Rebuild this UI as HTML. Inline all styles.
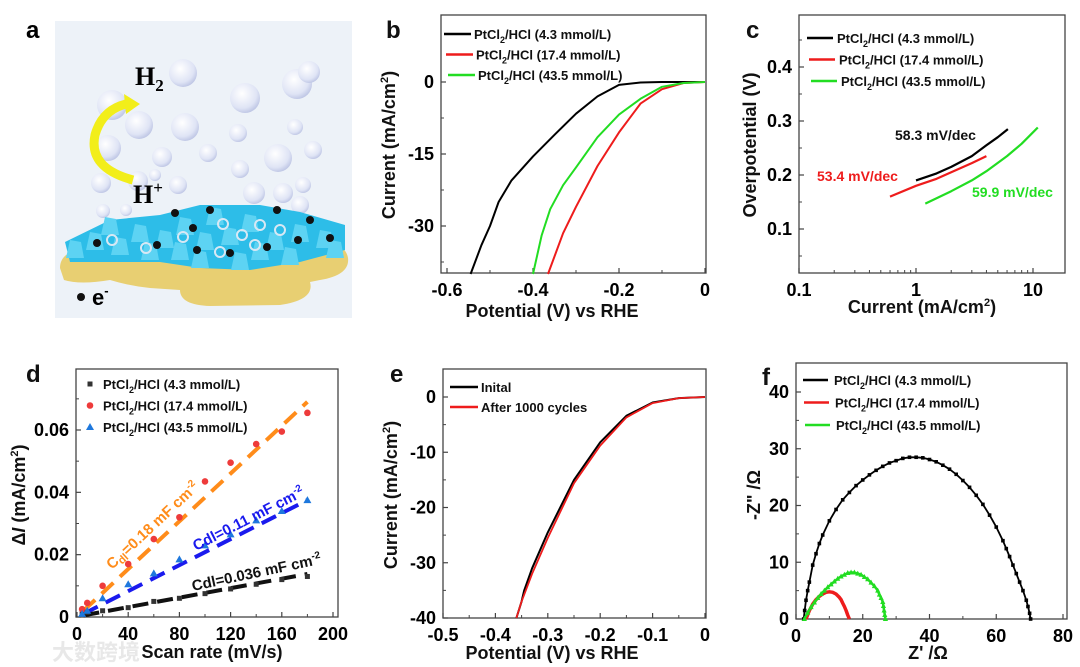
<!DOCTYPE html>
<html><head><meta charset="utf-8">
<style>
body{margin:0;background:#fff;}
svg{display:block;font-family:"Liberation Sans",Arial,sans-serif;font-weight:bold;}
</style></head>
<body>
<svg id="fig" width="1080" height="667" viewBox="0 0 1080 667" xmlns="http://www.w3.org/2000/svg">
<g>
<text x="26" y="38" font-size="24">a</text>
<rect x="55" y="21" width="297" height="297" fill="#edf2f8"/>
<defs>
<radialGradient id="bub" cx="0.4" cy="0.35" r="0.7"><stop offset="0" stop-color="#ffffff"/><stop offset="0.7" stop-color="#dfe4f5"/><stop offset="1" stop-color="#b9c1e2"/></radialGradient>
</defs>
<g id="bubbles"></g>
<path d="M60 268 Q60 250 90 248 L300 240 Q345 238 348 258 Q350 275 320 280 L310 282 Q315 300 280 305 L210 306 Q180 305 180 290 L150 288 Q130 286 110 280 Q80 285 64 280 Z" fill="#e8cf72"/>
<path d="M65 242 L110 220 L160 215 L200 205 L260 205 L300 212 L345 225 L345 250 L300 262 L250 270 L200 268 L160 262 L110 262 L70 262 Z" fill="#2dbde8"/>
<g id="crystals"></g>
<path d="M133 180 Q88 168 95 135 Q102 110 126 104" fill="none" stroke="#f2ee1a" stroke-width="9"/>
<path d="M124 94 L140 104 L126 114 Z" fill="#f2ee1a"/>
<text x="135" y="85" font-family="Liberation Serif,serif" font-size="26">H<tspan font-size="17" dy="6">2</tspan></text>
<text x="133" y="203" font-family="Liberation Serif,serif" font-size="26">H<tspan font-size="17" dy="-10">+</tspan></text>
<circle cx="81" cy="297" r="4" fill="#111"/>
<text x="92" y="305" font-size="22">e<tspan font-size="13" dy="-10">-</tspan></text>
</g>
<g id="plots"></g>
<text x="52" y="660" font-size="22" fill="#e8e8e8" font-family="Liberation Sans,'Noto Sans CJK SC',sans-serif">大数跨境</text>
</svg>
<script>
// ---------- Panel b data ----------
const bBlackV=[0,-0.1,-0.15,-0.2,-0.25,-0.3,-0.35,-0.4,-0.45,-0.48,-0.5,-0.52,-0.545];
const bBlackI=[0,0,-0.1,-0.6,-3,-6.6,-11,-15.5,-20.5,-25,-30,-34,-40];
const bRedV=[0,-0.05,-0.1,-0.15,-0.2,-0.25,-0.3,-0.33,-0.365];
const bRedI=[0,-0.2,-1.5,-4.5,-10.5,-17.5,-26,-31.5,-40];
const bGreenV=[0,-0.05,-0.1,-0.15,-0.2,-0.25,-0.3,-0.33,-0.36,-0.38,-0.4];
const bGreenI=[0,-0.2,-1,-3.5,-6.8,-11.5,-17.8,-21.5,-26.5,-32,-40];
const bXTicks=[-0.6,-0.4,-0.2,0];
const bYTicks=[0,-15,-30];
// ---------- Panel c data ----------
const cBlackX=[1,1.5,2,3,4,5,6.1];
const cBlackY=[0.19,0.203,0.215,0.235,0.255,0.27,0.285];
const cRedX=[0.6,1,1.5,2,3,4];
const cRedY=[0.16,0.18,0.193,0.205,0.222,0.235];
const cGreenX=[1.2,2,3,4,6,8,11];
const cGreenY=[0.147,0.17,0.19,0.207,0.235,0.258,0.288];
const cXTicks=[0.1,1,10];
const cYTicks=[0.1,0.2,0.3,0.4];
// ---------- Panel d data ----------
const dScan=[4,8,20,40,60,80,100,120,140,160,180];
const dBlack=[0.001,0.0015,0.002,0.003,0.005,0.006,0.0075,0.009,0.0105,0.012,0.013];
const dRed=[0.0025,0.0045,0.01,0.017,0.025,0.032,0.0435,0.0495,0.0555,0.0595,0.0655];
const dBlue=[0.001,0.002,0.006,0.0105,0.014,0.0185,0.023,0.0265,0.031,0.034,0.0375];
const dFitX=[5,180];
const dFitRed=[0.002,0.069];
const dFitBlue=[0.001,0.0375];
const dFitBlack=[0.0005,0.0138];
const dXTicks=[0,40,80,120,160,200];
const dYTicks=[0,0.02,0.04,0.06];
// ---------- Panel e data ----------
const eInitV=[0,-0.05,-0.1,-0.15,-0.2,-0.25,-0.3,-0.33,-0.345,-0.35,-0.36];
const eInitI=[0,-0.2,-1,-3.4,-8.2,-15,-24.5,-31,-35,-37,-40];
const eAfterV=[0,-0.05,-0.1,-0.15,-0.2,-0.25,-0.3,-0.33,-0.35,-0.36];
const eAfterI=[0,-0.2,-1.1,-3.7,-8.8,-15.6,-25.5,-32,-37,-40];
const eXTicks=[-0.5,-0.4,-0.3,-0.2,-0.1,0];
const eYTicks=[0,-10,-20,-30,-40];
// ---------- Panel f data ----------
const fBlackX=[2.3,2.6,3,3.5,4,5,6,7,8,10,12,14,16,18,20,22,24,26,28,30,32,34,36,38,40,42,44,46,48,50,52,54,56,58,60,62,63,64,65,66,67,68,69,69.5,70,70.3];
const fBlackY=[0,1.5,3.3,5,6.5,9.5,11.5,13.3,14.8,17.3,19.3,21,22.3,23.5,24.5,25.4,26.2,26.9,27.5,27.9,28.3,28.5,28.5,28.4,28.1,27.7,27.1,26.4,25.5,24.4,23.2,21.8,20.2,18.3,16.2,13.8,12.4,11,9.5,8,6.5,5,3.3,2.2,1,0];
const fRedX=[3,4,5,6,7,8,9,10,11,12,13,13.5,14,14.5,15,15.5,16];
const fRedY=[0,1.5,2.6,3.4,4,4.4,4.7,4.8,4.7,4.4,3.8,3.4,2.8,2.2,1.5,0.7,0];
const fGreenX=[2.5,3.5,4.5,5.5,6.5,7.5,8.5,9.5,10.5,11.5,12.5,13.5,14.5,15.5,16.5,17.5,18.5,19.5,20.5,21.5,22.5,23.5,24.5,25,25.5,26,26.2,26.4,26.6,26.8];
const fGreenY=[0,1.1,2.1,2.9,3.7,4.4,5,5.6,6.1,6.6,7.1,7.5,7.8,8.1,8.2,8.2,8,7.8,7.4,7,6.4,5.8,5,4.3,3.7,3,2.3,1.5,0.7,0];
const fXTicks=[0,20,40,60,80];
const fYTicks=[0,10,20,30,40];

const NS='http://www.w3.org/2000/svg';
const root=document.getElementById('plots');
function mk(tag,attrs,parent){const e=document.createElementNS(NS,tag);for(const k in attrs)e.setAttribute(k,attrs[k]);(parent||root).appendChild(e);return e;}
function lin(d0,d1,r0,r1){return v=>r0+(v-d0)*(r1-r0)/(d1-d0);}
function logs(d0,d1,r0,r1){return v=>r0+(Math.log10(v)-Math.log10(d0))*(r1-r0)/(Math.log10(d1)-Math.log10(d0));}

function axes(g,box,sx,sy,xt,yt,xfmt,yfmt,xminor,yminor){
  const fr=mk('rect',{x:box.l,y:box.t,width:box.r-box.l,height:box.b-box.t,fill:'none',stroke:'#444','stroke-width':1.3},g);
  
  
  xt.forEach(v=>{const x=sx(v);
    const t=mk('line',{x1:x,x2:x,y1:box.b,y2:box.b-5,stroke:'#444','stroke-width':1.2},g);
    
    
    const tx=mk('text',{x:x,y:box.b+23,'font-size':18,'text-anchor':'middle'},g);tx.textContent=xfmt(v);
    
    });
  (xminor||[]).forEach(v=>{const x=sx(v);
    const t=mk('line',{x1:x,x2:x,y1:box.b,y2:box.b-3,stroke:'#444','stroke-width':1},g);
    
    });
  yt.forEach(v=>{const y=sy(v);
    const t=mk('line',{x1:box.l,x2:box.l+5,y1:y,y2:y,stroke:'#444','stroke-width':1.2},g);
    
    
    const tx=mk('text',{x:box.l-7,y:y+6,'font-size':18,'text-anchor':'end'},g);tx.textContent=yfmt(v);
    
    });
  (yminor||[]).forEach(v=>{const y=sy(v);
    const t=mk('line',{x1:box.l,x2:box.l+3,y1:y,y2:y,stroke:'#444','stroke-width':1},g);
    
    });
}
function line(g,xs,ys,sx,sy,color,w,name,dash){
  const d=xs.map((x,i)=>(i?'L':'M')+sx(x).toFixed(1)+' '+sy(ys[i]).toFixed(1)).join(' ');
  const p=mk('path',{d:d,fill:'none',stroke:color,'stroke-width':w||2,'stroke-linejoin':'round'},g);
  if(dash)p.setAttribute('stroke-dasharray',dash);
  
  
  return p;
}
function label(g,x,y,txt,size,name,anchor,fill,rot){
  const t=mk('text',{x:x,y:y,'font-size':size,'text-anchor':anchor||'start',fill:fill||'#111'},g);
  if(rot!==undefined)t.setAttribute('transform','rotate('+rot+' '+x+' '+y+')');
  t.innerHTML=txt;
  
  
  return t;
}
function legLine(g,x1,x2,y,color,name){
  const l=mk('line',{x1:x1,x2:x2,y1:y,y2:y,stroke:color,'stroke-width':2.5},g);
  
  
}
const sub2='PtCl<tspan font-size="9" dy="4">2</tspan><tspan dy="-4">/HCl</tspan>';

// ===== Panel b =====
(function(){
 const g=mk('g',{});
 const box={l:441,r:706,t:15,b:273};
 const sx=lin(-0.6,0,447,705), sy=lin(0,-30,82,226);
 axes(g,box,sx,sy,bXTicks,bYTicks,v=>v===0?'0':v.toFixed(1),v=>String(v),[-0.5,-0.3,-0.1],[-7.5,-22.5,-37.5]);
 line(g,bBlackV,bBlackI,sx,sy,'#000',2,'series-4-3-mmol');
 line(g,bRedV,bRedI,sx,sy,'#ee1c1c',2,'series-17-4-mmol');
 line(g,bGreenV,bGreenI,sx,sy,'#22dd22',2,'series-43-5-mmol');
 label(g,386,38,'b',24,'panel-label-b');
 [['#000','4.3'],['#ee1c1c','17.4'],['#22dd22','43.5']].forEach((s,i)=>{
   const y=34+i*20.5, x0=444+i*2;
   legLine(g,x0,x0+27,y,s[0],'legend-line');
   label(g,x0+30,y+5,sub2+' ('+s[1]+' mmol/L)',13,'legend-entry');
 });
 label(g,395,145,'Current (mA/cm<tspan font-size="11" dy="-7">2</tspan><tspan dy="7">)</tspan>',18,'y-axis-title','middle','#111',-90);
 label(g,552,317,'Potential (V) vs RHE',18,'x-axis-title','middle');
})();

// ===== Panel c =====
(function(){
 const g=mk('g',{});
 const box={l:799,r:1065,t:15,b:273};
 const sx=logs(0.1,10,799,1033), sy=lin(0.1,0.4,229,67);
 axes(g,box,sx,sy,cXTicks,cYTicks,v=>String(v),v=>v.toFixed(1),[0.2,0.3,0.4,0.5,0.6,0.7,0.8,0.9,2,3,4,5,6,7,8,9],[0.05,0.15,0.25,0.35,0.45]);
 line(g,cBlackX,cBlackY,sx,sy,'#000',2.2,'tafel-4-3-mmol');
 line(g,cRedX,cRedY,sx,sy,'#ee1c1c',2.2,'tafel-17-4-mmol');
 line(g,cGreenX,cGreenY,sx,sy,'#22dd22',2.2,'tafel-43-5-mmol');
 label(g,746,38,'c',24,'panel-label-c');
 [['#000','4.3'],['#ee1c1c','17.4'],['#22dd22','43.5']].forEach((s,i)=>{
   const y=38+i*21.5, x0=807+i*2;
   legLine(g,x0,x0+26,y,s[0],'legend-line');
   label(g,x0+30,y+5,sub2+' ('+s[1]+' mmol/L)',13,'legend-entry');
 });
 label(g,895,140,'58.3 mV/dec',14,'slope-label-black');
 label(g,817,181,'53.4 mV/dec',14,'slope-label-red','start','#ee1c1c');
 label(g,972,197,'59.9 mV/dec',14,'slope-label-green','start','#22dd22');
 label(g,756,145,'Overpotential (V)',18,'y-axis-title','middle','#111',-90);
 label(g,922,313,'Current (mA/cm<tspan font-size="11" dy="-7">2</tspan><tspan dy="7">)</tspan>',18,'x-axis-title','middle');
})();

// ===== Panel d =====
(function(){
 const g=mk('g',{});
 const box={l:76,r:338,t:369,b:617};
 const sx=lin(0,200,77,333), sy=lin(0,0.06,617,430);
 axes(g,box,sx,sy,dXTicks,dYTicks,v=>String(v),v=>v===0?'0':v.toFixed(2),[20,60,100,140,180],[0.01,0.03,0.05,0.07]);
 line(g,dFitX,dFitRed,sx,sy,'#ff8c1a',4,'fit-line-17-4-mmol','16,9');
 line(g,dFitX,dFitBlue,sx,sy,'#1a1aee',4,'fit-line-43-5-mmol','16,9');
 line(g,dFitX,dFitBlack,sx,sy,'#111',4,'fit-line-4-3-mmol','16,9');
 dScan.forEach((x,i)=>{
   const s=mk('rect',{x:sx(x)-2.5,y:sy(dBlack[i])-2.5,width:5,height:5,fill:'#333'},g);
   
   
   const c=mk('circle',{cx:sx(x),cy:sy(dRed[i]),r:3.3,fill:'#ee3b3b'},g);
   
   
   const X=sx(x),Y=sy(dBlue[i]);
   const t=mk('polygon',{points:`${X},${Y-4} ${X-4},${Y+3} ${X+4},${Y+3}`,fill:'#1e78dd'},g);
   
   
 });
 label(g,26,382,'d',24,'panel-label-d');
 const mk3=[(x,y)=>mk('rect',{x:x-2.5,y:y-2.5,width:5,height:5,fill:'#333'},g),(x,y)=>mk('circle',{cx:x,cy:y,r:3.3,fill:'#ee3b3b'},g),(x,y)=>mk('polygon',{points:`${x},${y-4} ${x-4},${y+3} ${x+4},${y+3}`,fill:'#1e78dd'},g)];
 ['4.3','17.4','43.5'].forEach((c,i)=>{
   const y=384+i*21.5;
   const m=mk3[i](90,y);
   
   
   label(g,103,y+5,sub2+' ('+c+' mmol/L)',13,'legend-entry');
 });
 label(g,112,570,'C<tspan font-size="11" dy="3">dl</tspan><tspan dy="-3">=0.18 mF cm</tspan><tspan font-size="10" dy="-6">-2</tspan>',15,'cdl-label-orange','start','#ff8c1a',-43);
 label(g,196,551,'Cdl=0.11 mF cm<tspan font-size="10" dy="-6">-2</tspan>',15,'cdl-label-blue','start','#1a1aee',-27);
 label(g,193,591,'Cdl=0.036 mF cm<tspan font-size="10" dy="-6">-2</tspan>',15,'cdl-label-black','start','#111',-12);
 label(g,25,495,'Δ<tspan font-style="italic">I</tspan> (mA/cm<tspan font-size="11" dy="-7">2</tspan><tspan dy="7">)</tspan>',18,'y-axis-title','middle','#111',-90);
 label(g,212,658,'Scan rate (mV/s)',18,'x-axis-title','middle');
})();

// ===== Panel e =====
(function(){
 const g=mk('g',{});
 const box={l:443,r:706,t:369,b:618};
 const sx=lin(-0.5,0,443,705), sy=lin(0,-40,397,618);
 axes(g,box,sx,sy,eXTicks,eYTicks,v=>v===0?'0':v.toFixed(1),v=>String(v),[-0.45,-0.35,-0.25,-0.15,-0.05],[-5,-15,-25,-35]);
 line(g,eInitV,eInitI,sx,sy,'#000',2,'series-initial');
 line(g,eAfterV,eAfterI,sx,sy,'#ee1c1c',1.8,'series-after-1000-cycles');
 label(g,390,382,'e',24,'panel-label-e');
 legLine(g,450,478,387,'#000','legend-line');
 label(g,481,392,'Inital',13,'legend-entry');
 legLine(g,450,478,407,'#ee1c1c','legend-line');
 label(g,481,412,'After 1000 cycles',13,'legend-entry');
 label(g,397,495,'Current (mA/cm<tspan font-size="11" dy="-7">2</tspan><tspan dy="7">)</tspan>',18,'y-axis-title','middle','#111',-90);
 label(g,552,659,'Potential (V) vs RHE',18,'x-axis-title','middle');
})();

// ===== Panel f =====
(function(){
 const g=mk('g',{});
 const box={l:796,r:1067,t:363,b:619};
 const sx=lin(0,80,796,1063), sy=lin(0,40,619,392);
 axes(g,box,sx,sy,fXTicks,fYTicks,v=>String(v),v=>String(v),[10,30,50,70],[5,15,25,35]);
 line(g,fBlackX,fBlackY,sx,sy,'#000',1.8,'nyquist-4-3-mmol');
 fBlackX.forEach((x,i)=>{const s=mk('rect',{x:sx(x)-1.8,y:sy(fBlackY[i])-1.8,width:3.6,height:3.6,fill:'#000'},g);
   
   });
 line(g,fRedX,fRedY,sx,sy,'#ee1c1c',3.5,'nyquist-17-4-mmol');
 line(g,fGreenX,fGreenY,sx,sy,'#22dd22',2.5,'nyquist-43-5-mmol');
 fGreenX.forEach((x,i)=>{const X=sx(x),Y=sy(fGreenY[i]);const t=mk('polygon',{points:`${X},${Y-3} ${X-2.6},${Y+2} ${X+2.6},${Y+2}`,fill:'#22dd22'},g);
   
   });
 label(g,762,385,'f',24,'panel-label-f');
 [['#000','4.3'],['#ee1c1c','17.4'],['#22dd22','43.5']].forEach((s,i)=>{
   const y=380+i*22.5, x0=803+i*1;
   legLine(g,x0,x0+25,y,s[0],'legend-line');
   label(g,x0+31,y+5,sub2+' ('+s[1]+' mmol/L)',13,'legend-entry');
 });
 label(g,760,495,'-Z" /Ω',18,'y-axis-title','middle','#111',-90);
 label(g,928,659,"Z' /Ω",18,'x-axis-title','middle');
})();

// ===== Panel a decorations =====
const bubbleList=[[112,105,15],[183,73,14],[245,98,15],[297,84,15],[309,72,11],[139,125,14],[185,127,14],[238,133,9],[295,127,8],[108,148,13],[162,157,10],[208,153,9],[278,158,14],[313,150,9],[101,183,10],[138,181,10],[178,185,9],[240,169,9],[254,193,11],[283,193,10],[303,185,8],[103,211,7],[126,210,6],[300,205,9],[155,175,6]];
const bg=document.getElementById('bubbles');
bubbleList.forEach(b=>{const c=document.createElementNS(NS,'circle');c.setAttribute('cx',b[0]);c.setAttribute('cy',b[1]);c.setAttribute('r',b[2]);c.setAttribute('fill','url(#bub)');
 
 
 bg.appendChild(c);});
const cg=document.getElementById('crystals');
const crystalList=[[75,248],[95,240],[120,245],[140,232],[165,238],[185,225],[205,240],[230,235],[250,222],[275,240],[300,232],[325,238],[110,225],[215,215],[260,250],[290,255],[200,258],[150,250],[335,248],[180,250],[240,260]];
crystalList.forEach(p=>{const q=document.createElementNS(NS,'polygon');q.setAttribute('points',`${p[0]-9},${p[1]+10} ${p[0]-5},${p[1]-8} ${p[0]+6},${p[1]-6} ${p[0]+9},${p[1]+10}`);q.setAttribute('fill','#5dd3f3');
 
 
 cg.appendChild(q);});
const dots=[[97,243],[157,245],[193,228],[197,250],[175,213],[210,210],[277,210],[298,240],[267,247],[230,253],[330,238],[310,220]];
dots.forEach(p=>{const c=document.createElementNS(NS,'circle');c.setAttribute('cx',p[0]);c.setAttribute('cy',p[1]);c.setAttribute('r',4);c.setAttribute('fill','#111');
 
 
 cg.appendChild(c);});
const rings=[[112,240],[146,248],[183,237],[220,252],[242,235],[255,245],[280,230],[223,224],[260,225]];
rings.forEach(p=>{const c=document.createElementNS(NS,'circle');c.setAttribute('cx',p[0]);c.setAttribute('cy',p[1]);c.setAttribute('r',5);c.setAttribute('fill','none');c.setAttribute('stroke','#d8e8f4');c.setAttribute('stroke-width',2);
 
 
 cg.appendChild(c);});
</script>
</body></html>
